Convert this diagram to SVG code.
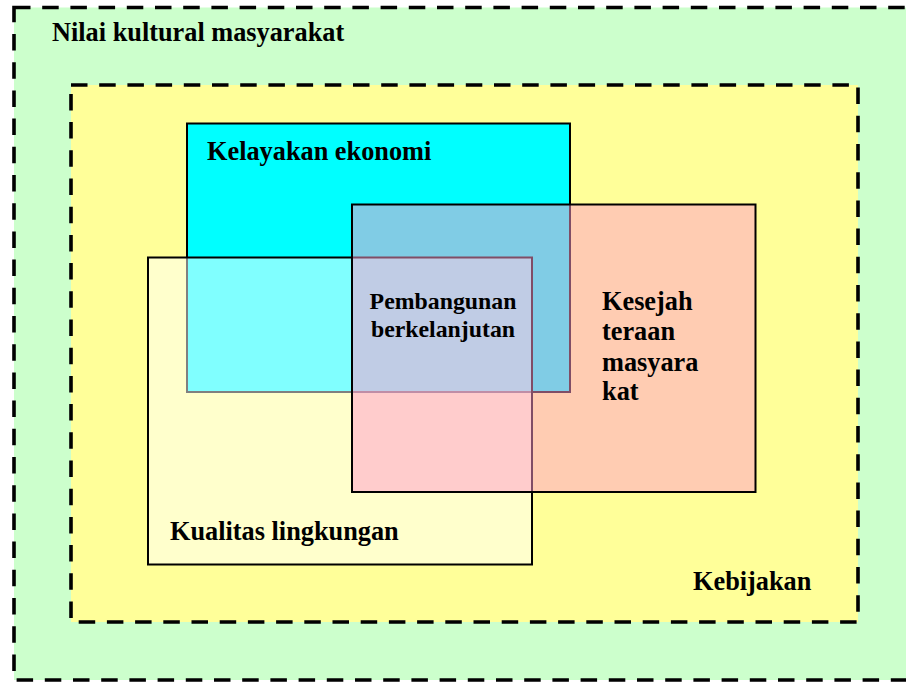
<svg xmlns="http://www.w3.org/2000/svg" width="906" height="682" viewBox="0 0 906 682">
<style>
.t{font-family:"Liberation Serif","Times New Roman",serif;font-weight:bold;fill:#000;font-size:26.3px}
.s{font-size:23.8px}
.dash{stroke:#000;stroke-width:3.6;stroke-dasharray:16.5 11.7}
.box{stroke:#000;stroke-width:2}
</style>
<rect width="906" height="682" fill="#fff"/>
<g id="nilai-kultural">
<rect class="dash" x="14" y="7.5" width="900" height="672.5" fill="#CCFFCC"/>
<text class="t" x="52" y="41">Nilai kultural masyarakat</text>
</g>
<g id="kebijakan">
<rect class="dash" x="71" y="85" width="787" height="537" fill="#FFFF99"/>
<text class="t" x="693" y="590">Kebijakan</text>
</g>
<g id="kelayakan-ekonomi">
<rect class="box" x="187" y="123.5" width="383" height="268.5" fill="#00FFFF"/>
<text class="t" x="207" y="159.5">Kelayakan ekonomi</text>
</g>
<g id="kualitas-lingkungan">
<rect class="box" x="148" y="257.5" width="384" height="307" fill="#FFFFFF" fill-opacity="0.5"/>
<text class="t" x="170" y="540">Kualitas lingkungan</text>
</g>
<g id="kesejahteraan-masyarakat">
<rect class="box" x="352" y="204.5" width="403.5" height="287.5" fill="#FF99CC" fill-opacity="0.5"/>
<text class="t" x="602" y="310">Kesejah</text>
<text class="t" x="602" y="340">teraan</text>
<text class="t" x="602" y="370.5">masyara</text>
<text class="t" x="602" y="400">kat</text>
</g>
<g id="pembangunan-berkelanjutan">
<text class="t s" x="443" y="309" text-anchor="middle">Pembangunan</text>
<text class="t s" x="443" y="336.5" text-anchor="middle">berkelanjutan</text>
</g>
</svg>
